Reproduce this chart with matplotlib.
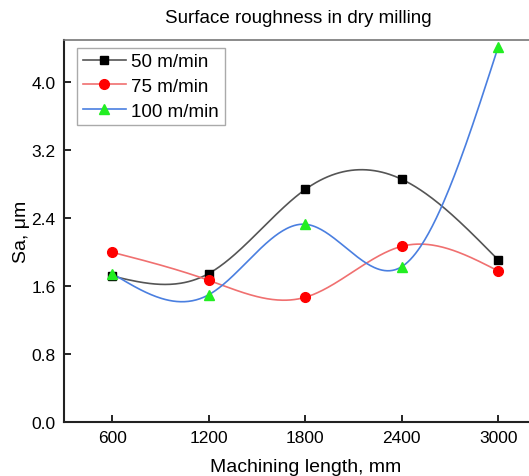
import numpy as np
import matplotlib.pyplot as plt

plt.rcParams['font.family'] = ['Liberation Sans', 'DejaVu Sans']

# data
lengths = [600, 1200, 1800, 2400, 3000]
sa_50 = [1.72, 1.75, 2.74, 2.86, 1.91]
sa_75 = [2.00, 1.67, 1.47, 2.07, 1.78]
sa_100 = [1.75, 1.50, 2.33, 1.83, 4.42]
labels = ['50 m/min', '75 m/min', '100 m/min']


def natural_spline(x, y, n=300):
    # plain natural cubic spline, no scipy here
    x = np.asarray(x, float)
    y = np.asarray(y, float)
    k = len(x)
    h = np.diff(x)
    A = np.zeros((k, k))
    b = np.zeros(k)
    A[0, 0] = 1
    A[-1, -1] = 1
    for i in range(1, k - 1):
        A[i, i - 1] = h[i - 1]
        A[i, i] = 2 * (h[i - 1] + h[i])
        A[i, i + 1] = h[i]
        b[i] = 6 * ((y[i + 1] - y[i]) / h[i] - (y[i] - y[i - 1]) / h[i - 1])
    M = np.linalg.solve(A, b)
    xs = np.linspace(x[0], x[-1], n)
    idx = np.clip(np.searchsorted(x, xs) - 1, 0, k - 2)
    x0, x1 = x[idx], x[idx + 1]
    hh = x1 - x0
    t0 = x1 - xs
    t1 = xs - x0
    ys = (M[idx] * t0**3 + M[idx + 1] * t1**3) / (6 * hh) \
        + (y[idx] / hh - M[idx] * hh / 6) * t0 \
        + (y[idx + 1] / hh - M[idx + 1] * hh / 6) * t1
    return xs, ys


fig = plt.figure(figsize=(5.29, 4.77), dpi=100)
ax = fig.add_axes([0.121, 0.113, 0.912, 0.801])

series = [sa_50, sa_75, sa_100]
line_colors = ['#555555', '#f07070', '#4a7fe0']
marker_colors = ['black', 'red', '#22ee22']
markers = ['s', 'o', '^']
msizes = [6, 7, 7]

for vals, lc, mc, mk, ms, lab in zip(series, line_colors, marker_colors, markers, msizes, labels):
    xs, ys = natural_spline(lengths, vals)
    ax.plot(xs, ys, color=lc, lw=1.2, zorder=2)
    ax.plot(lengths, vals, ls='none', marker=mk, ms=ms, color=mc, zorder=3, clip_on=False)
    # proxy for legend
    ax.plot([], [], color=lc, lw=1.2, marker=mk, ms=ms, mfc=mc, mec=mc, label=lab)

ax.set_xlim(300, 3300)
ax.set_ylim(0, 4.5)
ax.set_xticks(lengths)
ax.set_yticks([0.0, 0.8, 1.6, 2.4, 3.2, 4.0])
ax.set_yticklabels(['0.0', '0.8', '1.6', '2.4', '3.2', '4.0'])
ax.tick_params(direction='in', length=5, width=1.2, labelsize=12.5, pad=6)

for s in ['left', 'bottom']:
    ax.spines[s].set_linewidth(1.5)
    ax.spines[s].set_color('#222222')
ax.spines['top'].set_color('#777777')
ax.spines['top'].set_linewidth(1.2)
ax.spines['right'].set_visible(False)

ax.set_xlabel('Machining length, mm', fontsize=14, labelpad=9)
ax.set_ylabel('Sa, μm', fontsize=14, labelpad=1)
fig.text(0.563, 0.962, 'Surface roughness in dry milling', fontsize=13.5, ha='center', va='center')

leg = ax.legend(loc='upper left', fontsize=13.5, handlelength=2.3, handletextpad=0.3,
                labelspacing=0.4, borderpad=0.3, borderaxespad=0, fancybox=False,
                framealpha=1, bbox_to_anchor=(0.027, 0.98))
leg.get_frame().set_edgecolor('#aaaaaa')

fig.savefig('out.png', dpi=100)
